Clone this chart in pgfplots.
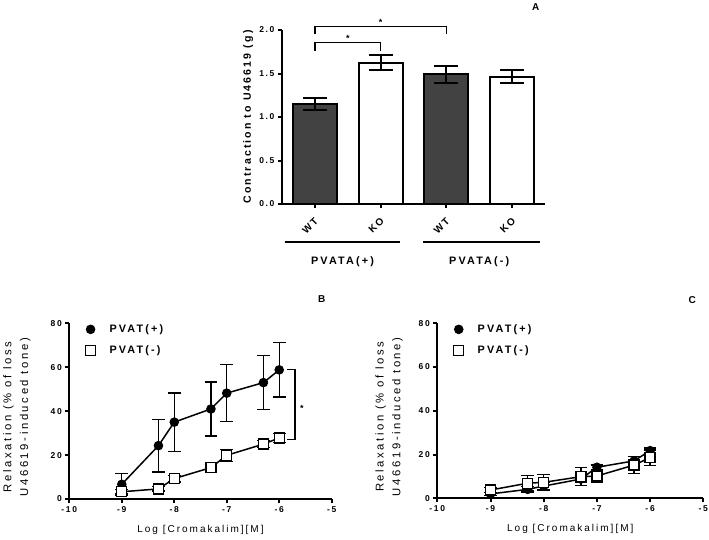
\documentclass[border=0pt]{standalone}
\usepackage{fontspec}
\setmainfont{Liberation Sans}[LetterSpace=20]
\newfontfamily\ylabfam{Liberation Sans}[LetterSpace=23]
\usepackage{pgfplots}
\pgfplotsset{compat=1.18}
\definecolor{darkbar}{RGB}{66,66,66}
\newcommand\tickfont{\bfseries\fontsize{8.5}{10}\selectfont}
\newcommand\xlabfont{\fontsize{10}{12}\selectfont}
\newcommand\ylabfont{\ylabfam\fontsize{11.3}{16.7}\selectfont}
\pgfplotsset{
  common/.style={
    scale only axis, anchor=south west, clip=false,
    axis x line*=bottom, axis y line*=left,
    axis line style={line width=2pt,-},
    tick align=outside, major tick length=4pt,
    tick style={line width=2pt, black},
    every tick label/.append style={font=\tickfont},
    /pgf/number format/assume math mode=true,
  },
  curve/.style={
    common,
    xmin=-10, xmax=-5, ymin=0, ymax=80,
    xtick={-10,-9,-8,-7,-6,-5}, ytick={0,20,40,60,80},
    xlabel={Log [Cromakalim][M]},
    xlabel style={font=\xlabfont, at={(axis description cs:0.5,0)}, anchor=center, yshift=-31pt},
    ylabel={Relaxation (\% of loss\\U46619-induced tone)},
    ylabel style={font=\ylabfont, align=center, anchor=center},
    legend style={draw=none, fill=none, font=\bfseries\fontsize{10.8}{12}\selectfont,
      at={(axis description cs:0.046,1.016)}, anchor=north west,
      /tikz/column sep=11pt, /tikz/row sep=7.5pt},
    legend cell align=left,
    legend image code/.code={\draw[#1] plot coordinates {(0pt,0pt)};
      \path[draw=none,fill=none] (-6pt,-5pt) rectangle (6pt,5pt);},
  },
  plus/.style={black, line width=1.5pt, mark=*, mark size=4pt,
    error bars/.cd, y dir=both, y explicit,
    error bar style={line width=1.3pt},
    error mark options={rotate=90, mark size=6.3pt, line width=1.3pt}},
  minus/.style={black, line width=1.5pt, mark=square*, mark size=5pt,
    mark options={fill=white, line width=1.3pt},
    error bars/.cd, y dir=both, y explicit,
    error bar style={line width=1.3pt},
    error mark options={rotate=90, mark size=6.3pt, line width=1.3pt}},
}
\begin{document}
\begin{tikzpicture}
\useasboundingbox (0pt,0pt) rectangle (709pt,-539pt);

% ---------------- Panel A ----------------
\begin{axis}[common,
  at={(282pt,-204pt)}, width=263pt, height=174pt,
  xmin=-0.5, xmax=3.5, ymin=0, ymax=2,
  ytick={0,0.5,1,1.5,2},
  yticklabel style={/pgf/number format/.cd, fixed, fixed zerofill, precision=1},
  xtick={0,1,2,3}, xticklabels={WT,KO,WT,KO},
  xticklabel style={yshift=-4pt, xshift=-1pt, rotate=45, anchor=north east, font=\bfseries\fontsize{10}{12}\selectfont},
  ylabel={Contraction to U46619 (g)},
  ylabel style={font=\bfseries\fontsize{10.6}{12}\selectfont, at={(axis description cs:-0.129,0.5)}, anchor=center},
]
\addplot[ybar, bar width=0.67, bar shift=0pt, fill=darkbar, draw=black, line width=2pt,
  error bars/.cd, y dir=both, y explicit, error bar style={line width=2pt},
  error mark options={rotate=90, mark size=12pt, line width=2pt}]
  coordinates {(0,1.15) +- (0,0.07) (2,1.49) +- (0,0.095)};
\addplot[ybar, bar width=0.67, bar shift=0pt, fill=white, draw=black, line width=2pt,
  error bars/.cd, y dir=both, y explicit, error bar style={line width=2pt},
  error mark options={rotate=90, mark size=12pt, line width=2pt}]
  coordinates {(1,1.625) +- (0,0.09) (3,1.465) +- (0,0.07)};
\draw[line width=1.5pt] (axis cs:0,1.76) -- (axis cs:0,1.854) -- (axis cs:1,1.854) -- (axis cs:1,1.76);
\draw[line width=1.5pt] (axis cs:0,1.95) -- (axis cs:0,2.04) -- (axis cs:2,2.04) -- (axis cs:2,1.95);
\node[font=\bfseries\fontsize{9}{10}\selectfont] at (axis cs:0.5,1.90) {*};
\node[font=\bfseries\fontsize{9}{10}\selectfont] at (axis cs:1,2.09) {*};
\draw[line width=1.5pt] (axis cs:-0.46,-0.437) -- (axis cs:1.30,-0.437);
\draw[line width=1.5pt] (axis cs:1.65,-0.437) -- (axis cs:3.43,-0.437);
\node[font=\bfseries\fontsize{10.8}{12}\selectfont] at (axis cs:0.42,-0.667) {PVATA(+)};
\node[font=\bfseries\fontsize{10.8}{12}\selectfont] at (axis cs:2.50,-0.667) {PVATA(-)};
\end{axis}

% ---------------- Panel B ----------------
\begin{axis}[curve,
  at={(69.3pt,-499pt)}, width=262.4pt, height=175.7pt,
  ylabel style={at={(axis description cs:-0.2,0.466)}},
]
\addplot[plus] coordinates {
  (-9,6.7) +- (0,5) (-8.301,24.3) +- (0,12) (-8,35) +- (0,13.3)
  (-7.301,41) +- (0,12.3) (-7,48.2) +- (0,13) (-6.301,53) +- (0,12.4)
  (-6,58.8) +- (0,12.4)};
\addplot[minus] coordinates {
  (-9,3.3) +- (0,1) (-8.301,4.6) +- (0,1) (-8,9.3) +- (0,1.5)
  (-7.301,14.3) +- (0,1.5) (-7,19.9) +- (0,2.8) (-6.301,25) +- (0,1.5)
  (-6,27.8) +- (0,2)};
\legend{PVAT(+),PVAT(-)}
\draw[line width=1.3pt] (axis cs:-5.85,59) -- (axis cs:-5.70,59) -- (axis cs:-5.70,27) -- (axis cs:-5.85,27);
\node[font=\bfseries\fontsize{9}{10}\selectfont] at (axis cs:-5.57,41.3) {*};
\end{axis}

% ---------------- Panel C ----------------
\begin{axis}[curve,
  at={(437.3pt,-498.3pt)}, width=266pt, height=175pt,
  ylabel style={at={(axis description cs:-0.181,0.466)}},
]
\addplot[plus] coordinates {
  (-9,2.0) +- (0,0.8) (-8.301,4.1) +- (0,1.2) (-8,5.6) +- (0,1.5)
  (-7.301,8.8) +- (0,1.5) (-7,14.2) +- (0,1) (-6.301,17.1) +- (0,2)
  (-6,21.8) +- (0,1.2)};
\addplot[minus] coordinates {
  (-9,3.8) +- (0,1) (-8.301,6.9) +- (0,3.6) (-8,7.3) +- (0,3.5)
  (-7.301,9.9) +- (0,4.1) (-7,10.2) +- (0,3) (-6.301,15.2) +- (0,4)
  (-6,18.6) +- (0,3.5)};
\legend{PVAT(+),PVAT(-)}
\end{axis}

\node[font=\bfseries\fontsize{10}{12}\selectfont] at (535.7pt,-6.7pt) {A};
\node[font=\bfseries\fontsize{10}{12}\selectfont] at (321.7pt,-299.3pt) {B};
\node[font=\bfseries\fontsize{10}{12}\selectfont] at (692.3pt,-300pt) {C};
\end{tikzpicture}
\end{document}
